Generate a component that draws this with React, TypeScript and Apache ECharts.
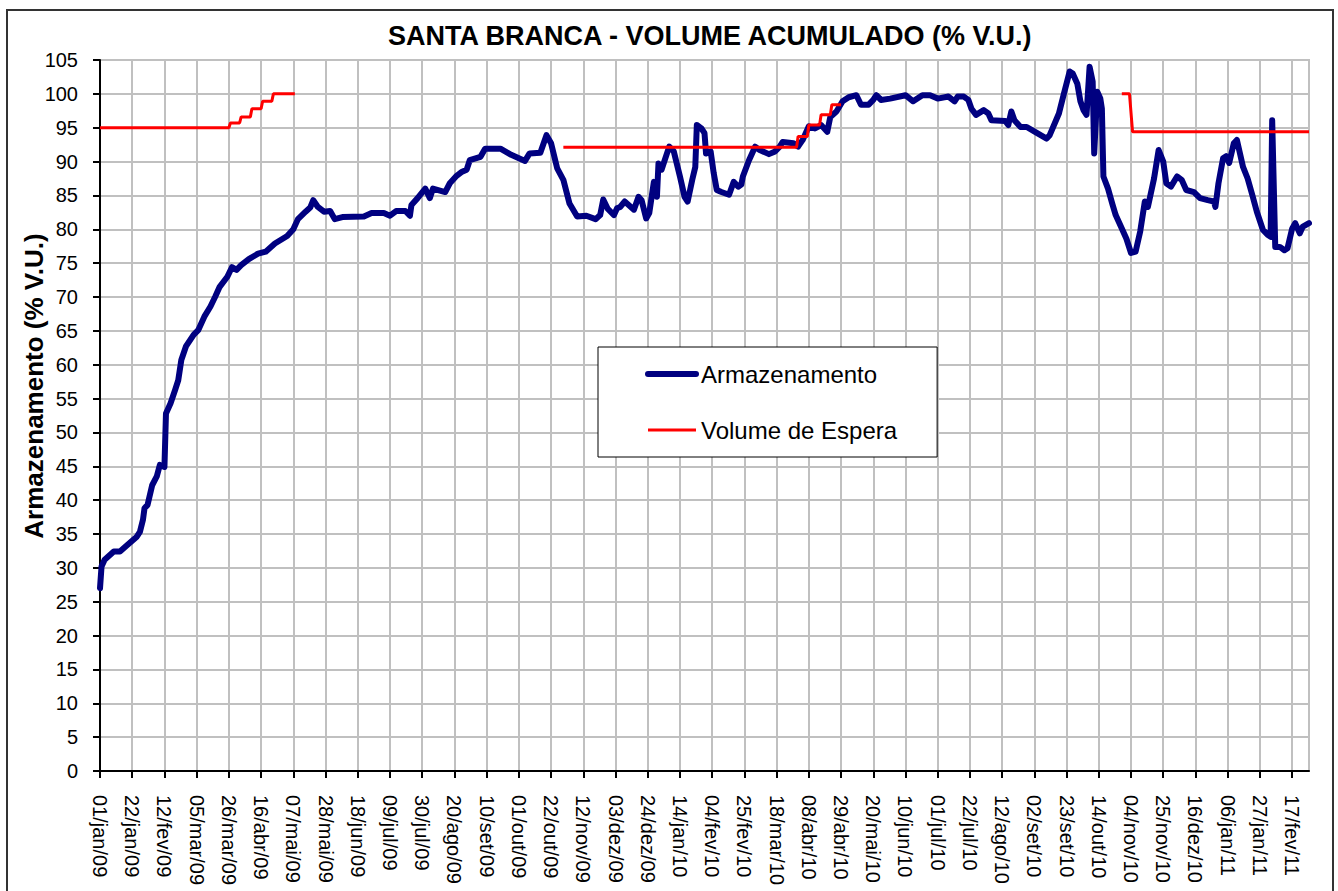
import React, { useEffect, useRef } from "react";
import * as echarts from "echarts";

// Tick labels of the x axis (one every 21 days, starting 01/jan/09 = day 0)
const tickLabels = [
  "01/jan/09", "22/jan/09", "12/fev/09", "05/mar/09", "26/mar/09", "16/abr/09",
  "07/mai/09", "28/mai/09", "18/jun/09", "09/jul/09", "30/jul/09", "20/ago/09",
  "10/set/09", "01/out/09", "22/out/09", "12/nov/09", "03/dez/09", "24/dez/09",
  "14/jan/10", "04/fev/10", "25/fev/10", "18/mar/10", "08/abr/10", "29/abr/10",
  "20/mai/10", "10/jun/10", "01/jul/10", "22/jul/10", "12/ago/10", "02/set/10",
  "23/set/10", "14/out/10", "04/nov/10", "25/nov/10", "16/dez/10", "06/jan/11",
  "27/jan/11", "17/fev/11",
];
const TICK_STEP = 21;
const LAST_DAY = 788;

// Armazenamento (% V.U.) : day since 01/jan/09 and value
const armDays = [
  0, 1, 3, 9, 13, 18, 24, 26, 28, 29, 31, 34, 37, 39, 42, 43, 46, 49, 51, 53,
  56, 61, 64, 68, 72, 75, 78, 83, 86, 89, 92, 97, 103, 108, 114, 122, 126, 129, 134, 137,
  139, 142, 146, 150, 153, 158, 172, 177, 185, 189, 193, 199, 202, 203, 207, 212, 215, 217, 225, 228,
  232, 236, 239, 241, 248, 251, 261, 268, 277, 280, 287, 291, 294, 298, 302, 306, 311, 317, 323, 326,
  328, 331, 335, 337, 339, 342, 348, 351, 353, 356, 358, 361, 363, 364, 366, 371, 374, 378, 381, 383,
  386, 388, 389, 392, 394, 395, 398, 400, 402, 405, 410, 413, 416, 418, 419, 423, 427, 430, 436, 440,
  443, 445, 452, 455, 458, 462, 466, 470, 474, 476, 480, 484, 488, 493, 496, 501, 504, 506, 509, 515,
  525, 530, 536, 541, 546, 553, 557, 559, 563, 566, 568, 571, 576, 579, 581, 590, 592, 594, 596, 600,
  604, 610, 617, 619, 625, 628, 632, 634, 637, 639, 641, 643, 645, 647, 648, 650, 652, 653, 654, 657,
  660, 662, 666, 669, 672, 675, 678, 681, 683, 687, 690, 693, 695, 698, 702, 705, 708, 713, 717, 722,
  726, 727, 729, 732, 734, 736, 739, 741, 743, 745, 748, 751, 754, 758, 761, 763, 764, 766, 769, 772,
  774, 777, 779, 782, 784, 788,
];
const armValues = [
  27.0, 30.2, 31.2, 32.4, 32.4, 33.4, 34.6, 35.3, 37.1, 38.8, 39.3, 42.2, 43.5, 45.2, 44.9, 52.8, 54.3, 56.3, 57.7, 60.7,
  62.7, 64.4, 65.1, 67.1, 68.6, 70.0, 71.5, 73.0, 74.4, 74.0, 74.7, 75.6, 76.4, 76.7, 77.9, 79.0, 80.0, 81.5, 82.6, 83.2,
  84.3, 83.3, 82.6, 82.7, 81.5, 81.8, 81.9, 82.4, 82.4, 82.0, 82.7, 82.7, 82.0, 83.6, 84.6, 86.0, 84.6, 86.0, 85.5, 86.8,
  87.8, 88.5, 88.8, 90.2, 90.7, 91.9, 91.9, 91.0, 90.1, 91.2, 91.3, 93.9, 92.7, 89.0, 87.3, 83.8, 81.9, 82.0, 81.5, 82.1,
  84.4, 83.0, 82.1, 83.1, 83.3, 84.1, 82.9, 84.8, 84.3, 81.6, 82.4, 87.0, 84.8, 89.7, 88.8, 92.2, 91.5, 87.8, 84.8, 84.1,
  87.3, 89.2, 95.4, 94.9, 94.2, 91.2, 91.5, 88.3, 85.8, 85.5, 85.1, 87.0, 86.3, 86.6, 87.8, 90.2, 92.2, 91.7, 91.1, 91.5,
  92.2, 92.9, 92.7, 92.2, 93.2, 95.2, 94.9, 95.4, 94.4, 96.6, 97.4, 98.9, 99.5, 99.8, 98.4, 98.4, 99.1, 99.8, 99.1, 99.3,
  99.8, 98.9, 99.8, 99.8, 99.3, 99.6, 98.9, 99.6, 99.6, 99.1, 97.8, 96.9, 97.6, 97.1, 96.1, 96.0, 95.4, 97.4, 96.1, 95.1,
  95.1, 94.3, 93.4, 93.9, 97.1, 99.8, 103.3, 103.0, 101.5, 98.9, 97.6, 96.9, 104.0, 101.8, 91.2, 100.3, 99.3, 97.8, 87.8, 86.0,
  83.6, 82.1, 80.1, 78.6, 76.5, 76.7, 79.7, 84.1, 83.3, 87.5, 91.7, 90.0, 86.8, 86.3, 87.8, 87.3, 85.8, 85.5, 84.6, 84.3,
  84.1, 83.3, 86.8, 90.5, 90.8, 89.8, 92.7, 93.2, 91.2, 89.2, 87.5, 85.1, 82.6, 79.9, 79.2, 78.9, 96.1, 77.4, 77.4, 76.9,
  77.2, 80.1, 80.9, 79.4, 80.4, 80.9,
];

// Volume de Espera (% V.U.) : "-" marks a break between periods
const esperaDays = [
  0, 84, 85, 91, 92, 98, 99, 105, 106, 112, 113, 127, 128,
  302, 454, 455, 461, 462, 469, 470, 476, 477, 483, 484,
  666, 671, 673, 788,
];
const esperaValues: (number | string)[] = [
  95.0, 95.0, 95.7, 95.7, 96.6, 96.6, 97.8, 97.8, 98.9, 98.9, 100.0, 100.0, "-",
  92.1, 92.1, 93.7, 93.7, 95.4, 95.4, 96.9, 96.9, 98.4, 98.4, "-",
  100.0, 100.0, 94.4, 94.4,
];

const FONT = "'Liberation Sans', Arial, Helvetica, sans-serif";

export default function App() {
  const ref = useRef<HTMLDivElement>(null);

  useEffect(() => {
    if (!ref.current) return;
    const chart = echarts.init(ref.current, null, { renderer: "svg" });

    const armData = armDays.map((d, i) => [d, armValues[i]]);
    const esperaData = esperaDays.map((d, i) => [d, esperaValues[i]]);
    const hiddenSymbol = { color: "rgba(0,0,0,0)", borderColor: "rgba(0,0,0,0)", borderWidth: 0, opacity: 0 };

    chart.setOption({
      animation: false,
      backgroundColor: "#ffffff",
      textStyle: { fontFamily: FONT },
      title: {
        text: "SANTA BRANCA - VOLUME ACUMULADO (% V.U.)",
        left: 388,
        top: 22,
        padding: 0,
        textStyle: { fontSize: 27, fontWeight: "bold", color: "#000", fontFamily: FONT },
      },
      grid: {
        left: 100,
        top: 60,
        right: 29,
        bottom: 120,
        show: true,
        borderColor: "#c0c0c0",
        borderWidth: 2,
        backgroundColor: "#ffffff",
        containLabel: false,
      },
      legend: {
        orient: "vertical",
        left: 598,
        top: 347,
        padding: [15, 40, 15, 47],
        itemGap: 32,
        itemWidth: 48,
        itemHeight: 24,
        backgroundColor: "#ffffff",
        borderColor: "#000000",
        borderWidth: 1,
        borderRadius: 0,
        textStyle: { fontSize: 24, color: "#000", fontFamily: FONT },
        data: [
          {
            name: "Armazenamento",
            itemStyle: hiddenSymbol,
            lineStyle: { width: 6, color: "#000080", cap: "round" },
          },
          {
            name: "Volume de Espera",
            itemStyle: hiddenSymbol,
            lineStyle: { width: 3, color: "#ff0000" },
          },
        ],
      },
      xAxis: {
        type: "value",
        min: 0,
        max: LAST_DAY,
        interval: TICK_STEP,
        axisLine: { show: true, onZero: false, lineStyle: { color: "#000", width: 2 } },
        axisTick: { show: true, length: 7, lineStyle: { color: "#000", width: 2 } },
        axisLabel: {
          rotate: -90,
          margin: 24,
          fontSize: 20,
          color: "#000",
          fontFamily: FONT,
          showMaxLabel: false,
          formatter: (v: number) => {
            const i = Math.round(v / TICK_STEP);
            return Math.abs(v - i * TICK_STEP) < 1e-6 && i < tickLabels.length ? tickLabels[i] : "";
          },
        },
        splitLine: { show: true, lineStyle: { color: "#c0c0c0", width: 2 } },
      },
      yAxis: {
        type: "value",
        min: 0,
        max: 105,
        interval: 5,
        name: "Armazenamento (% V.U.)",
        nameLocation: "middle",
        nameRotate: 90,
        nameGap: 53,
        nameMoveOverlap: false,
        nameTextStyle: {
          fontSize: 26,
          fontWeight: "bold",
          color: "#000",
          fontFamily: FONT,
          padding: [0, 0, 0, 59],
        },
        axisLine: { show: true, onZero: false, lineStyle: { color: "#000", width: 2 } },
        axisTick: { show: true, length: 7, lineStyle: { color: "#000", width: 2 } },
        axisLabel: { fontSize: 20, margin: 22, color: "#000", fontFamily: FONT },
        splitLine: { show: true, lineStyle: { color: "#c0c0c0", width: 2 } },
      },
      series: [
        {
          name: "Armazenamento",
          type: "line",
          data: armData,
          symbol: "none",
          showSymbol: false,
          z: 2,
          lineStyle: { color: "#000080", width: 6, cap: "round", join: "round" },
          itemStyle: { color: "#000080" },
        },
        {
          name: "Volume de Espera",
          type: "line",
          data: esperaData,
          symbol: "none",
          showSymbol: false,
          connectNulls: false,
          z: 3,
          lineStyle: { color: "#ff0000", width: 3 },
          itemStyle: { color: "#ff0000" },
        },
      ],
      graphic: [
        {
          type: "rect",
          silent: true,
          z: 100,
          shape: { x: 7, y: 10, width: 1326, height: 900 },
          style: { fill: "none", stroke: "#333333", lineWidth: 2 },
        },
      ],
    });

    return () => chart.dispose();
  }, []);

  return (
    <div
      ref={ref}
      style={{ position: "fixed", left: 0, top: 0, width: 1338, height: 891, background: "#fff" }}
    />
  );
}
